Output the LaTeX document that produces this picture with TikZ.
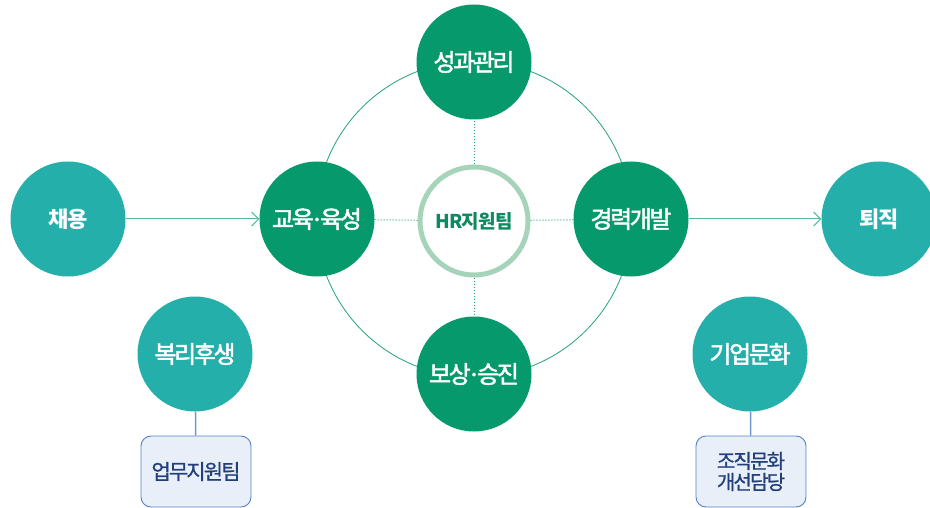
\documentclass[tikz,border=0pt]{standalone}
\usepackage{fontspec}
\setmainfont{Noto Sans CJK KR}
\newfontfamily\medfont[FakeBold=2,LetterSpace=-10]{Noto Sans CJK KR}
\newfontfamily\boldlab[LetterSpace=-4]{Noto Sans CJK KR}
\newfontfamily\boxfont[FakeBold=1,LetterSpace=-9]{Noto Sans CJK KR}
\newfontfamily\dotfont[FakeBold=1.5]{Noto Sans}
\newcommand{\mdot}{{\dotfont ·}}
\usetikzlibrary{arrows.meta}
\definecolor{teal}{HTML}{24AFAA}
\definecolor{mgreen}{HTML}{06996B}
\definecolor{ringc}{HTML}{A5D4BB}
\definecolor{hrtext}{HTML}{0E8A5F}
\definecolor{linec}{HTML}{1FA277}
\definecolor{arrowc}{HTML}{4DBD9E}
\definecolor{boxfill}{HTML}{E8EFF9}
\definecolor{boxdraw}{HTML}{5383C8}
\definecolor{boxtext}{HTML}{223F7C}
\definecolor{boxline}{HTML}{6F98D0}
\tikzset{
  tealnode/.style={circle,fill=teal,minimum size=115pt,inner sep=0pt,text=white,font=\medfont\fontsize{24}{28}\selectfont},
  greennode/.style={circle,fill=mgreen,minimum size=115pt,inner sep=0pt,text=white,font=\medfont\fontsize{24}{28}\selectfont},
  endnode/.style={tealnode,font=\boldlab\bfseries\fontsize{22}{26}\selectfont},
  hrnode/.style={circle,draw=ringc,line width=5pt,fill=white,minimum size=108pt,inner sep=0pt,text=hrtext,font=\boldlab\bfseries\fontsize{19}{23}\selectfont},
  infobox/.style={draw=boxdraw,fill=boxfill,rounded corners=10pt,minimum width=110pt,minimum height=71pt,inner sep=0pt,align=center,text=boxtext,font=\boxfont\fontsize{21}{21}\selectfont,line width=0.9pt},
  flowarrow/.style={draw=arrowc,line width=1pt,-{Straight Barb[length=7pt,width=14pt]}},
  dotline/.style={draw=linec,line width=1pt,dotted},
  ringline/.style={draw=linec,line width=0.8pt},
  boxconn/.style={draw=boxline,line width=1.5pt}
}
\begin{document}
\begin{tikzpicture}[x=1pt,y=-1pt]
\useasboundingbox (0,0) rectangle (930,508);
\clip (0,0) rectangle (930,508);
\draw[ringline] (474,219) circle[radius=158];
\node[endnode] (chae) at (68,219) {채용};
\node[greennode] (edu) at (317,219) {교육\mdot 육성};
\node[greennode] (perf) at (474,62) {성과관리};
\node[greennode] (career) at (631,219) {경력개발};
\node[greennode] (comp) at (474,374) {보상\mdot 승진};
\node[hrnode] (hr) at (474,221) {HR지원팀};
\node[endnode] (ret) at (879,219) {퇴직};
\node[tealnode] (welf) at (195,354) {복리후생};
\node[tealnode] (cult) at (750,354) {기업문화};
\node[infobox] (box1) at (196,471.5) {업무지원팀};
\node[infobox,font=\boxfont\fontsize{20}{21}\selectfont] (box2) at (751,471.5) {조직문화\\개선담당};
\draw[dotline] (hr) -- (edu);
\draw[dotline] (hr) -- (career);
\draw[dotline] (hr) -- (perf);
\draw[dotline] (hr) -- (comp);
\draw[flowarrow] (chae) -- (edu);
\draw[flowarrow] (career) -- (ret);
\draw[boxconn] (welf) -- (box1);
\draw[boxconn] (cult) -- (box2);
\end{tikzpicture}
\end{document}
